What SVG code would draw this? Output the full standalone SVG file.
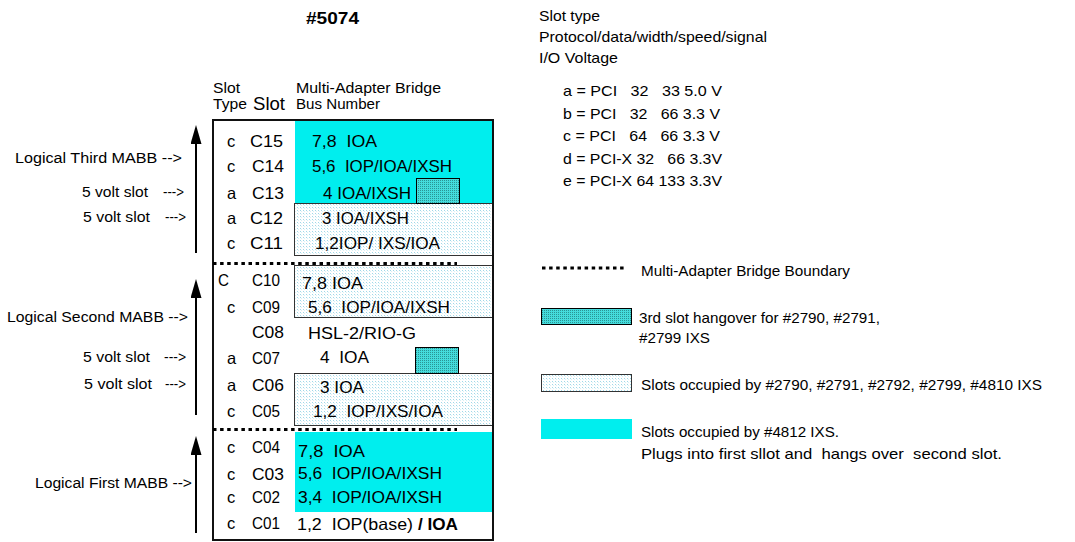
<svg xmlns="http://www.w3.org/2000/svg" width="1075" height="542" viewBox="0 0 1075 542" xml:space="preserve">
<style>
text{font-family:"Liberation Sans",Arial,sans-serif;fill:#000;white-space:pre}
.b{font-size:16.5px}
.h{font-size:15px}
.l{font-size:15.5px}
.g{font-size:15px}
.bold{font-weight:bold}
.cy{fill:#00eeee}
.lt{fill:url(#dots);stroke:#333;stroke-width:1}
.hx{fill:url(#hatch);stroke:#000;stroke-width:1}
.bnd{stroke:#000;stroke-width:3;stroke-dasharray:3.5 3.6;fill:none}
.arr{stroke:#000;stroke-width:2;fill:none;marker-end:url(#ah)}
</style>
<defs>
<pattern id="hatch" width="2" height="2" patternUnits="userSpaceOnUse"><rect width="2" height="2" fill="#44dcdc"/><rect width="1" height="1" fill="#2a9494"/></pattern>
<pattern id="dots" width="3" height="3" patternUnits="userSpaceOnUse"><rect width="3" height="3" fill="#ffffff"/><rect width="1" height="1" fill="#a0d8e8"/><rect x="1" y="1" width="1" height="1" fill="#d8f2f6"/></pattern>
<marker id="ah" viewBox="0 0 19 11" markerWidth="19" markerHeight="11" refX="0" refY="5.5" orient="auto" markerUnits="userSpaceOnUse"><path d="M0,0 L19,5.5 L0,11 Z" fill="#000"/></marker>
</defs>
<rect width="1075" height="542" fill="#fff"/>

<g id="title"><text class="bold" x="306" y="24" font-size="17" textLength="53" lengthAdjust="spacingAndGlyphs">#5074</text></g>

<g id="header">
<text class="h" x="213" y="93" textLength="27" lengthAdjust="spacingAndGlyphs">Slot</text>
<text class="h" x="213" y="109" textLength="34" lengthAdjust="spacingAndGlyphs">Type</text>
<text x="253" y="110" font-size="18" textLength="32" lengthAdjust="spacingAndGlyphs">Slot</text>
<text class="h" x="296" y="93" textLength="145" lengthAdjust="spacingAndGlyphs">Multi-Adapter Bridge</text>
<text class="h" x="296" y="109" textLength="84" lengthAdjust="spacingAndGlyphs">Bus Number</text>
</g>

<g id="fills">
<rect class="cy" x="295" y="121" width="198" height="82"/>
<rect class="cy" x="295" y="432" width="198" height="80"/>
<rect class="lt" x="294.5" y="203.5" width="198" height="52"/>
<rect class="lt" x="294.5" y="265.5" width="198" height="52"/>
<rect class="lt" x="294.5" y="373.5" width="198" height="52"/>
<rect class="hx" x="416.5" y="178.5" width="43" height="25"/>
<rect class="hx" x="415.5" y="347.5" width="43" height="26"/>
</g>

<g id="mabb3">
<text class="b" x="227" y="147">c</text>
<text class="b" x="250" y="147" textLength="33" lengthAdjust="spacingAndGlyphs">C15</text>
<text class="b" x="312" y="147" textLength="65" lengthAdjust="spacingAndGlyphs">7,8  IOA</text>
<text class="b" x="227" y="172">c</text>
<text class="b" x="252" y="172" textLength="32" lengthAdjust="spacingAndGlyphs">C14</text>
<text class="b" x="312" y="172" textLength="140" lengthAdjust="spacingAndGlyphs">5,6  IOP/IOA/IXSH</text>
<text class="b" x="227" y="199">a</text>
<text class="b" x="252" y="199" textLength="32" lengthAdjust="spacingAndGlyphs">C13</text>
<text class="b" x="323" y="199" textLength="88" lengthAdjust="spacingAndGlyphs">4 IOA/IXSH</text>
<text class="b" x="227" y="224">a</text>
<text class="b" x="250" y="224" textLength="33" lengthAdjust="spacingAndGlyphs">C12</text>
<text class="b" x="322" y="224" textLength="87" lengthAdjust="spacingAndGlyphs">3 IOA/IXSH</text>
<text class="b" x="227" y="249">c</text>
<text class="b" x="250" y="249" textLength="33" lengthAdjust="spacingAndGlyphs">C11</text>
<text class="b" x="315" y="249" textLength="125" lengthAdjust="spacingAndGlyphs">1,2IOP/ IXS/IOA</text>
</g>

<g id="mabb2">
<text class="b" x="218" y="286" textLength="11" lengthAdjust="spacingAndGlyphs">C</text>
<text class="b" x="252" y="286" textLength="28" lengthAdjust="spacingAndGlyphs">C10</text>
<text class="b" x="302" y="289" textLength="61" lengthAdjust="spacingAndGlyphs">7,8 IOA</text>
<text class="b" x="227" y="313">c</text>
<text class="b" x="252" y="313" textLength="28" lengthAdjust="spacingAndGlyphs">C09</text>
<text class="b" x="308" y="313" textLength="142" lengthAdjust="spacingAndGlyphs">5,6  IOP/IOA/IXSH</text>
<text class="b" x="252" y="338" textLength="32" lengthAdjust="spacingAndGlyphs">C08</text>
<text class="b" x="308" y="339" textLength="108" lengthAdjust="spacingAndGlyphs">HSL-2/RIO-G</text>
<text class="b" x="227" y="364">a</text>
<text class="b" x="252" y="364" textLength="28" lengthAdjust="spacingAndGlyphs">C07</text>
<text class="b" x="320" y="363" textLength="49" lengthAdjust="spacingAndGlyphs">4  IOA</text>
<text class="b" x="227" y="391">a</text>
<text class="b" x="252" y="391" textLength="32" lengthAdjust="spacingAndGlyphs">C06</text>
<text class="b" x="320" y="393" textLength="44" lengthAdjust="spacingAndGlyphs">3 IOA</text>
<text class="b" x="227" y="417">c</text>
<text class="b" x="252" y="417" textLength="28" lengthAdjust="spacingAndGlyphs">C05</text>
<text class="b" x="313" y="417" textLength="130" lengthAdjust="spacingAndGlyphs">1,2  IOP/IXS/IOA</text>
</g>

<g id="mabb1">
<text class="b" x="227" y="453">c</text>
<text class="b" x="252" y="453" textLength="28" lengthAdjust="spacingAndGlyphs">C04</text>
<text class="b" x="298" y="457" textLength="67" lengthAdjust="spacingAndGlyphs">7,8  IOA</text>
<text class="b" x="227" y="480">c</text>
<text class="b" x="252" y="480" textLength="32" lengthAdjust="spacingAndGlyphs">C03</text>
<text class="b" x="298" y="479" textLength="144" lengthAdjust="spacingAndGlyphs">5,6  IOP/IOA/IXSH</text>
<text class="b" x="227" y="503">c</text>
<text class="b" x="252" y="503" textLength="28" lengthAdjust="spacingAndGlyphs">C02</text>
<text class="b" x="298" y="503" textLength="144" lengthAdjust="spacingAndGlyphs">3,4  IOP/IOA/IXSH</text>
<text class="b" x="227" y="529">c</text>
<text class="b" x="252" y="529" textLength="28" lengthAdjust="spacingAndGlyphs">C01</text>
<text class="b" x="297" y="530" textLength="116" lengthAdjust="spacingAndGlyphs">1,2  IOP(base)</text>
<text class="b bold" x="418" y="530" textLength="40" lengthAdjust="spacingAndGlyphs">/ IOA</text>
</g>

<g id="table-frame">
<rect x="213" y="120" width="280" height="420" fill="none" stroke="#111" stroke-width="2"/>
</g>

<g id="connectors">
<line class="bnd" x1="213" y1="263.5" x2="457" y2="263.5"/>
<line class="bnd" x1="213" y1="429.5" x2="457" y2="429.5"/>
<line class="arr" x1="196" y1="253" x2="196" y2="144"/>
<line class="arr" x1="196" y1="415" x2="196" y2="298"/>
<line class="arr" x1="196" y1="533" x2="196" y2="455"/>
</g>

<g id="side-labels">
<text class="l" x="15" y="163" textLength="167" lengthAdjust="spacingAndGlyphs">Logical Third MABB --&gt;</text>
<text class="l" x="82" y="197" textLength="66" lengthAdjust="spacingAndGlyphs">5 volt slot</text>
<text class="l" x="163" y="197" textLength="21" lengthAdjust="spacingAndGlyphs">---&gt;</text>
<text class="l" x="83" y="222" textLength="67" lengthAdjust="spacingAndGlyphs">5 volt slot</text>
<text class="l" x="165" y="222" textLength="21" lengthAdjust="spacingAndGlyphs">---&gt;</text>
<text class="l" x="7" y="322" textLength="181" lengthAdjust="spacingAndGlyphs">Logical Second MABB --&gt;</text>
<text class="l" x="83" y="362" textLength="67" lengthAdjust="spacingAndGlyphs">5 volt slot</text>
<text class="l" x="164" y="362" textLength="22" lengthAdjust="spacingAndGlyphs">---&gt;</text>
<text class="l" x="84" y="389" textLength="68" lengthAdjust="spacingAndGlyphs">5 volt slot</text>
<text class="l" x="165" y="389" textLength="21" lengthAdjust="spacingAndGlyphs">---&gt;</text>
<text class="l" x="35" y="488" textLength="157" lengthAdjust="spacingAndGlyphs">Logical First MABB --&gt;</text>
</g>

<g id="slot-types">
<text class="g" x="539" y="21" textLength="61" lengthAdjust="spacingAndGlyphs">Slot type</text>
<text class="g" x="539" y="42" textLength="228" lengthAdjust="spacingAndGlyphs">Protocol/data/width/speed/signal</text>
<text class="g" x="539" y="63" textLength="79" lengthAdjust="spacingAndGlyphs">I/O Voltage</text>
<text class="g" x="563" y="96" textLength="159" lengthAdjust="spacingAndGlyphs">a = PCI   32   33 5.0 V</text>
<text class="g" x="563" y="119" textLength="157" lengthAdjust="spacingAndGlyphs">b = PCI   32   66 3.3 V</text>
<text class="g" x="563" y="141" textLength="157" lengthAdjust="spacingAndGlyphs">c = PCI   64   66 3.3 V</text>
<text class="g" x="563" y="164" textLength="159" lengthAdjust="spacingAndGlyphs">d = PCI-X 32   66 3.3V</text>
<text class="g" x="563" y="186" textLength="159" lengthAdjust="spacingAndGlyphs">e = PCI-X 64 133 3.3V</text>
</g>

<g id="legend">
<line class="bnd" x1="542" y1="268" x2="627" y2="268"/>
<text class="g" x="641" y="276" textLength="209" lengthAdjust="spacingAndGlyphs">Multi-Adapter Bridge Boundary</text>
<rect class="hx" x="541.5" y="308.5" width="90" height="16"/>
<text class="g" x="639" y="323" textLength="241" lengthAdjust="spacingAndGlyphs">3rd slot hangover for #2790, #2791,</text>
<text class="g" x="639" y="343" textLength="71" lengthAdjust="spacingAndGlyphs">#2799 IXS</text>
<rect class="lt" x="541.5" y="374.5" width="90" height="17"/>
<text class="g" x="641" y="390" textLength="401" lengthAdjust="spacingAndGlyphs">Slots occupied by #2790, #2791, #2792, #2799, #4810 IXS</text>
<rect class="cy" x="541" y="419" width="91" height="20"/>
<text class="g" x="641" y="437" textLength="198" lengthAdjust="spacingAndGlyphs">Slots occupied by #4812 IXS.</text>
<text class="g" x="641" y="459" textLength="361" lengthAdjust="spacingAndGlyphs">Plugs into first sllot and  hangs over  second slot.</text>
</g>
</svg>
